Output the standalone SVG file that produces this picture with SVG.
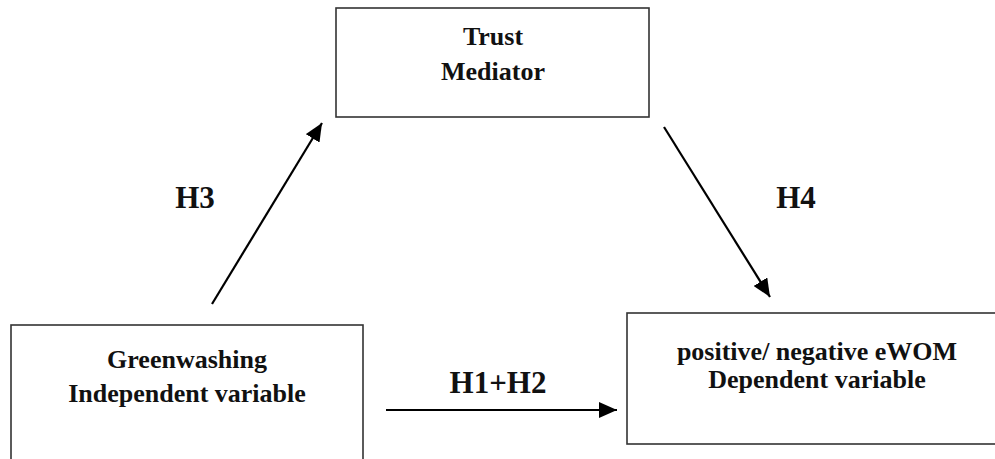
<svg xmlns="http://www.w3.org/2000/svg" width="995" height="459" viewBox="0 0 995 459">
<style>
.box{fill:#fff;stroke:#333;stroke-width:1.6}
.t{font-family:"Liberation Serif","Times New Roman",serif;font-weight:bold;font-size:26px;fill:#111;text-anchor:middle}
.h{font-family:"Liberation Serif","Times New Roman",serif;font-weight:bold;font-size:31px;fill:#111;text-anchor:middle}
.c{stroke:#000;stroke-width:2.2;fill:none}
</style>
<defs>
<marker id="ah" markerUnits="userSpaceOnUse" markerWidth="20" markerHeight="16" viewBox="0 0 20 16" refX="18" refY="8" orient="auto">
<path d="M0,0 L18,8 L0,16 Z" fill="#000"/>
</marker>
</defs>
<rect width="995" height="459" fill="#fff"/>
<g id="trust">
<rect class="box" x="336" y="8" width="313" height="109"/>
<text class="t" x="493" y="45">Trust</text>
<text class="t" x="493" y="80">Mediator</text>
</g>
<g id="greenwashing">
<rect class="box" x="11" y="325" width="352" height="150"/>
<text class="t" x="187" y="368">Greenwashing</text>
<text class="t" x="187" y="402">Independent variable</text>
</g>
<g id="ewom">
<rect class="box" x="627" y="313" width="390" height="131"/>
<text class="t" x="817" y="360">positive/ negative eWOM</text>
<text class="t" x="817" y="388">Dependent variable</text>
</g>
<g id="connectors">
<line class="c" x1="212" y1="304" x2="322" y2="123" marker-end="url(#ah)"/>
<line class="c" x1="664" y1="127" x2="770" y2="297" marker-end="url(#ah)"/>
<line class="c" x1="386" y1="410" x2="617" y2="410" marker-end="url(#ah)"/>
</g>
<g id="labels">
<text class="h" x="195" y="208">H3</text>
<text class="h" x="796" y="208">H4</text>
<text class="h" x="498" y="393">H1+H2</text>
</g>
</svg>
